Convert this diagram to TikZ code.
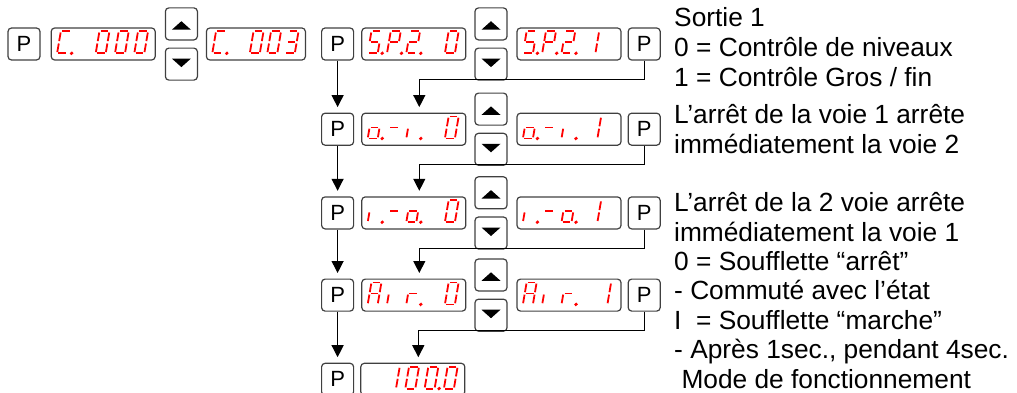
\documentclass[tikz,border=0pt]{standalone}
\usepackage{fontspec}
\setmainfont{Liberation Sans}
\usetikzlibrary{positioning,arrows.meta}
\definecolor{keygray}{RGB}{64,64,64}
\definecolor{ledred}{RGB}{255,0,0}

% one segment of a seven segment digit (a..g, p = decimal point)
\newcommand{\segment}[1]{%
  \ifx#1a\draw[segline] (1.2,22) -- (8.8,22);\fi
  \ifx#1b\draw[segline] (10,20.8) -- (10,12.2);\fi
  \ifx#1c\draw[segline] (10,9.8) -- (10,1.2);\fi
  \ifx#1d\draw[segline] (1.2,0) -- (8.8,0);\fi
  \ifx#1e\draw[segline] (0,1.2) -- (0,9.8);\fi
  \ifx#1f\draw[segline] (0,12.2) -- (0,20.8);\fi
  \ifx#1g\draw[segline] (1.2,11) -- (8.8,11);\fi
  \ifx#1p\fill[ledred] (14.5,0) circle (1.9);\fi}

% digits of a display: x offset / segments
\newcommand{\lcd}[2]{%
  \foreach \dx/\segs in {#2}{%
    \begin{scope}[shift={(#1.west)}, xshift=\dx pt, yshift=-9.3pt, xslant=0.17]
      \foreach \sg in \segs {\expandafter\segment\expandafter{\sg}}
    \end{scope}}}

\begin{document}
\begin{tikzpicture}[x=1pt, y=1pt,
  key/.style={draw=keygray, line width=1.2pt, rounded corners=3.5pt, minimum width=32pt,
    minimum height=32pt, inner sep=0pt, font=\fontsize{22}{22}\selectfont},
  lcdbox/.style={key, minimum width=104pt},
  upkey/.style={key, path picture={\fill[sharp corners] ([shift={(-9.5pt,-5.8pt)}]path picture bounding box.center)
    -- ++(19pt,0pt) -- ++(-9.5pt,8.5pt) -- cycle;}},
  dnkey/.style={key, path picture={\fill[sharp corners] ([shift={(-9.5pt,5.5pt)}]path picture bounding box.center)
    -- ++(19pt,0pt) -- ++(-9.5pt,-8.5pt) -- cycle;}},
  segline/.style={draw=ledred, line width=1.8pt},
  flow/.style={draw=black, line width=1.2pt, -{Triangle[length=12pt,width=12pt]}, shorten >=5.5pt},
  note/.style={align=left, inner sep=0pt, font=\fontsize{26.3}{29.6}\selectfont}]

  \useasboundingbox (0,0) rectangle (1017,392);

  % first line: code, then setpoint output
  \node[key] (key_start) at (24,348) {P};
  \node[lcdbox, right=10pt of key_start] (c000) {};
  \node[upkey, above right=3.5pt and 9pt of c000.east] (up_c) {};
  \node[dnkey, below right=3.5pt and 9pt of c000.east] (dn_c) {};
  \node[lcdbox, minimum width=99pt, right=50pt of c000] (c003) {};
  \node[key, right=15pt of c003] (key_sp) {P};
  \node[lcdbox, right=7pt of key_sp] (sp20) {};
  \node[upkey, above right=3.5pt and 8pt of sp20.east] (up_sp) {};
  \node[dnkey, below right=3.5pt and 8pt of sp20.east] (dn_sp) {};
  \node[lcdbox, right=50pt of sp20] (sp21) {};
  \node[key, right=6pt of sp21] (key_sp1) {P};

  % channel 1 stops channel 2
  \node[key, below=52pt of key_sp] (key_oi) {P};
  \node[lcdbox, right=7pt of key_oi] (oi0) {};
  \node[upkey, above right=3.5pt and 8pt of oi0.east] (up_oi) {};
  \node[dnkey, below right=3.5pt and 8pt of oi0.east] (dn_oi) {};
  \node[lcdbox, right=50pt of oi0] (oi1) {};
  \node[key, right=6pt of oi1] (key_oi1) {P};

  % channel 2 stops channel 1
  \node[key, below=50.5pt of key_oi] (key_io) {P};
  \node[lcdbox, right=7pt of key_io] (io0) {};
  \node[upkey, above right=3.5pt and 8pt of io0.east] (up_io) {};
  \node[dnkey, below right=3.5pt and 8pt of io0.east] (dn_io) {};
  \node[lcdbox, right=50pt of io0] (io1) {};
  \node[key, right=6pt of io1] (key_io1) {P};

  % air blower
  \node[key, below=49pt of key_io] (key_air) {P};
  \node[lcdbox, right=7pt of key_air] (air0) {};
  \node[upkey, above right=3.5pt and 8pt of air0.east] (up_air) {};
  \node[dnkey, below right=3.5pt and 8pt of air0.east] (dn_air) {};
  \node[lcdbox, right=50pt of air0] (air1) {};
  \node[key, right=6pt of air1] (key_air1) {P};

  % back to value
  \node[key, below=51pt of key_air] (key_val) {P};
  \node[lcdbox, right=6pt of key_val] (val) {};

  % display contents
  \lcd{c000}{6.5/{a,d,e,f,p}, 45.1/{a,b,c,d,e,f}, 64.4/{a,b,c,d,e,f}, 83.7/{a,b,c,d,e,f}}
  \lcd{c003}{6.5/{a,d,e,f,p}, 44/{a,b,c,d,e,f}, 61.5/{a,b,c,d,e,f}, 79/{a,b,c,d,g}}
  \lcd{sp20}{6.5/{a,f,g,c,d,p}, 25.8/{a,b,e,f,g,p}, 45.1/{a,b,g,e,d,p}, 83.7/{a,b,c,d,e,f}}
  \lcd{sp21}{6.5/{a,f,g,c,d,p}, 25.8/{a,b,e,f,g,p}, 45.1/{a,b,g,e,d,p}, 69/{b,c}}
  \lcd{oi0}{6.5/{c,d,e,g,p}, 25.8/{g}, 45.1/{e,p}, 83.7/{a,b,c,d,e,f}}
  \lcd{oi1}{6.5/{c,d,e,g,p}, 25.8/{g}, 45.1/{e,p}, 71/{b,c}}
  \lcd{io0}{6.5/{e,p}, 25.8/{g}, 45.1/{c,d,e,g,p}, 83.7/{a,b,c,d,e,f}}
  \lcd{io1}{6.5/{e,p}, 25.8/{g}, 45.1/{c,d,e,g,p}, 71/{b,c}}
  \lcd{air0}{6.5/{a,b,c,e,f,g}, 25.8/{e}, 45.1/{e,g,p}, 83.7/{a,b,c,d,e,f}}
  \lcd{air1}{6.5/{a,b,c,e,f,g}, 25.8/{e}, 45.1/{e,g,p}, 81/{b,c}}
  \lcd{val}{25.8/{b,c}, 45.1/{a,b,c,d,e,f}, 64.4/{a,b,c,d,e,f,p}, 83.7/{a,b,c,d,e,f}}

  % P key goes down one step
  \draw[flow] (key_sp) -- (key_oi);
  \draw[flow] (key_oi) -- (key_io);
  \draw[flow] (key_io) -- (key_air);
  \draw[flow] (key_air) -- (key_val);

  % P key after the choice
  \draw[flow] (key_sp1.south) -- ++(0,-19) -| ([xshift=5.5pt]oi0.north);
  \draw[flow] (key_oi1.south) -- ++(0,-19) -| ([xshift=5.5pt]io0.north);
  \draw[flow] (key_io1.south) -- ++(0,-19) -| ([xshift=5.5pt]air0.north);
  \draw[flow] (key_air1.south) -- ++(0,-19) -| ([xshift=5.5pt]val.north);

  % explanations (anchored on the last line)
  \node[note, anchor=base west] (txt_sortie) at (674,306)
    {Sortie 1\\0 = Contrôle de niveaux\\1 = Contrôle Gros / fin};
  \node[note, anchor=base west] (txt_voie1) at (674,238.5)
    {L’arrêt de la voie 1 arrête\\immédiatement la voie 2};
  \node[note, anchor=base west] (txt_voie2) at (674,150.5)
    {L’arrêt de la 2 voie arrête\\immédiatement la voie 1};
  \node[note, anchor=base west] (txt_souff) at (674,3.5)
    {0 = Soufflette “arrêt”\\- Commuté avec l’état\\I\ \ = Soufflette “marche”\\- Après 1sec., pendant 4sec.\\\ Mode de fonctionnement};
\end{tikzpicture}
\end{document}
